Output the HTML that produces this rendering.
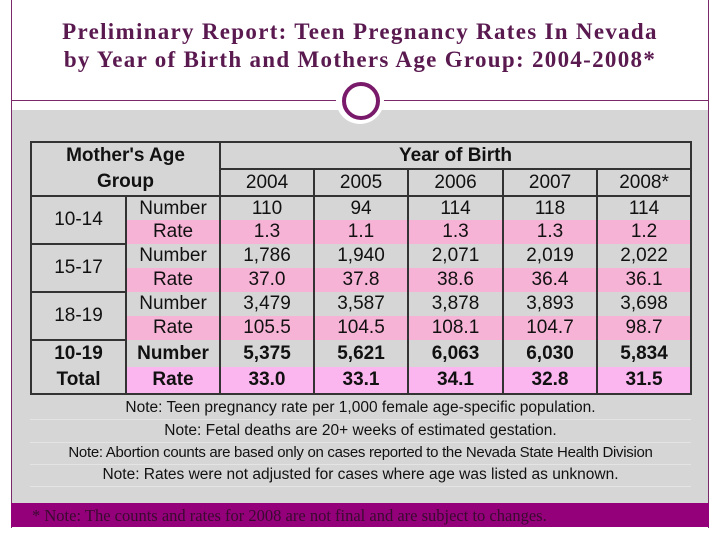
<!DOCTYPE html>
<html><head><meta charset="utf-8"><style>
body{margin:0;width:720px;height:540px;background:#fff;position:relative;overflow:hidden;font-family:"Liberation Sans",sans-serif}
.abs{position:absolute}
#title{left:0;width:720px;top:18px;text-align:center;font-family:"Liberation Serif",serif;font-size:23px;font-weight:bold;line-height:28px;color:#5a1a50;letter-spacing:1.3px}
table{border-collapse:collapse;position:absolute;left:30px;top:141px;width:661px;height:246px;table-layout:fixed}
tr{height:24px}
tr.h{height:25px}
td{border:2px solid #333;text-align:center;font-size:19px;padding:0;line-height:22px;color:#111}
td.lbl{border-top:none;border-bottom:none}
.pk td.p{background:#f7b3d6}
.tot td.p{background:#fbb5ef}
b{font-weight:bold}
.note{position:absolute;left:30px;width:661px;text-align:center;font-size:15.5px;color:#111;height:22px;line-height:22px;border-bottom:1px solid #e4e4e4}
</style></head><body>
<div class="abs" id="title">Preliminary Report: Teen Pregnancy Rates In Nevada<br>by Year of Birth and Mothers Age Group: 2004-2008*</div>
<div class="abs" style="left:11px;top:0;width:1px;height:528px;background:#7a2a6a"></div>
<div class="abs" style="left:708px;top:0;width:1px;height:528px;background:#7a2a6a"></div>
<div class="abs" style="left:12px;top:100px;width:696px;height:1px;background:#7a2a6a"></div>
<div class="abs" style="left:12px;top:110px;width:696px;height:393px;background:#d6d6d6"></div>
<div class="abs" style="left:336px;top:76px;width:48px;height:48px;border-radius:50%;background:#fff"></div>
<div class="abs" style="left:342px;top:82px;width:30px;height:30px;border-radius:50%;border:4px solid #7a1a6a"></div>
<table>
<colgroup><col style="width:95px"><col style="width:94px"><col style="width:94px"><col style="width:94px"><col style="width:95px"><col style="width:94px"><col style="width:94px"></colgroup>
<tr class="h"><td colspan="2" rowspan="2" style="line-height:26px"><b>Mother's Age<br>Group</b></td><td colspan="5"><b>Year of Birth</b></td></tr>
<tr class="h"><td>2004</td><td>2005</td><td>2006</td><td>2007</td><td>2008*</td></tr>
<tr><td rowspan="2">10-14</td><td class="lbl">Number</td><td class="lbl">110</td><td class="lbl">94</td><td class="lbl">114</td><td class="lbl">118</td><td class="lbl">114</td></tr>
<tr class="pk"><td class="lbl p">Rate</td><td class="lbl p">1.3</td><td class="lbl p">1.1</td><td class="lbl p">1.3</td><td class="lbl p">1.3</td><td class="lbl p">1.2</td></tr>
<tr><td rowspan="2">15-17</td><td class="lbl">Number</td><td class="lbl">1,786</td><td class="lbl">1,940</td><td class="lbl">2,071</td><td class="lbl">2,019</td><td class="lbl">2,022</td></tr>
<tr class="pk"><td class="lbl p">Rate</td><td class="lbl p">37.0</td><td class="lbl p">37.8</td><td class="lbl p">38.6</td><td class="lbl p">36.4</td><td class="lbl p">36.1</td></tr>
<tr><td rowspan="2">18-19</td><td class="lbl">Number</td><td class="lbl">3,479</td><td class="lbl">3,587</td><td class="lbl">3,878</td><td class="lbl">3,893</td><td class="lbl">3,698</td></tr>
<tr class="pk"><td class="lbl p">Rate</td><td class="lbl p">105.5</td><td class="lbl p">104.5</td><td class="lbl p">108.1</td><td class="lbl p">104.7</td><td class="lbl p">98.7</td></tr>
<tr><td rowspan="2" style="line-height:26px"><b>10-19<br>Total</b></td><td class="lbl"><b>Number</b></td><td class="lbl"><b>5,375</b></td><td class="lbl"><b>5,621</b></td><td class="lbl"><b>6,063</b></td><td class="lbl"><b>6,030</b></td><td class="lbl"><b>5,834</b></td></tr>
<tr class="tot"><td class="lbl p" style="border-bottom:2px solid #333"><b>Rate</b></td><td class="lbl p" style="border-bottom:2px solid #333"><b>33.0</b></td><td class="lbl p" style="border-bottom:2px solid #333"><b>33.1</b></td><td class="lbl p" style="border-bottom:2px solid #333"><b>34.1</b></td><td class="lbl p" style="border-bottom:2px solid #333"><b>32.8</b></td><td class="lbl p" style="border-bottom:2px solid #333"><b>31.5</b></td></tr>
</table>
<div class="note" style="top:397px">Note: Teen pregnancy rate per 1,000 female age-specific population.</div>
<div class="note" style="top:420px">Note: Fetal deaths are 20+ weeks of estimated gestation.</div>
<div class="note" style="top:442px;font-size:15px;letter-spacing:-0.3px">Note: Abortion counts are based only on cases reported to the Nevada State Health Division</div>
<div class="note" style="top:464px">Note: Rates were not adjusted for cases where age was listed as unknown.</div>
<div class="abs" style="left:11px;top:503px;width:698px;height:24px;background:#93007a"></div>
<div class="abs" style="left:32px;top:506px;font-family:'Liberation Serif',serif;font-size:16.5px;color:#3a0a30;line-height:20px">* Note: The counts and rates for 2008 are not final and are subject to changes.</div>
</body></html>
